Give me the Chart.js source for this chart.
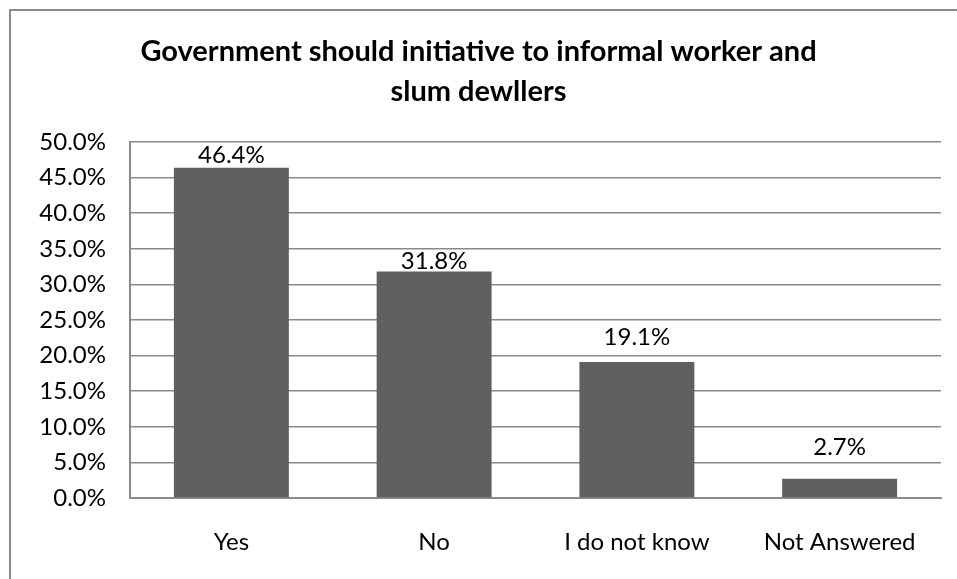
<!DOCTYPE html>
<html>
<head>
<meta charset="utf-8">
<script src="https://cdn.jsdelivr.net/npm/chart.js@4/dist/chart.umd.min.js"></script>
<style>
  html, body { margin: 0; padding: 0; background: #fff; }
  #wrap { width: 957px; height: 579px; }
</style>
</head>
<body>
<div id="wrap"><canvas id="myChart" width="957" height="579"></canvas></div>
<script>
const categories = ["Yes", "No", "I do not know", "Not Answered"];
const shares = [46.4, 31.8, 19.1, 2.7];
const yTicks = [0, 5, 10, 15, 20, 25, 30, 35, 40, 45, 50];

const titleLines = [
    "Government should initiative to informal worker and",
    "slum dewllers",
];

const FONT = "Lato, 'Open Sans', sans-serif";

// gray frame around the whole chart (runs off the right and bottom edges)
const frame = {
    id: "frame",
    beforeDraw(chart) {
        const ctx = chart.ctx;
        ctx.save();
        ctx.fillStyle = "#fff";
        ctx.fillRect(0, 0, chart.width, chart.height);
        ctx.strokeStyle = "#8a8a8a";
        ctx.lineWidth = 2;
        ctx.strokeRect(10, 10, chart.width + 20, chart.height + 20);
        ctx.restore();
    },
};

// value labels above each bar
const labelGap = [12, 10, 25, 32];
const barLabels = {
    id: "barLabels",
    afterDatasetsDraw(chart) {
        const ctx = chart.ctx;
        const meta = chart.getDatasetMeta(0);
        ctx.save();
        ctx.font = "24px " + FONT;
        ctx.fillStyle = "#000";
        ctx.textAlign = "center";
        ctx.textBaseline = "middle";
        meta.data.forEach((bar, i) => {
            ctx.fillText(shares[i].toFixed(1) + "%", bar.x, bar.y - labelGap[i]);
        });
        ctx.restore();
    },
};

new Chart(document.getElementById("myChart").getContext("2d"), {
    type: "bar",
    data: {
        labels: categories,
        datasets: [
            {
                data: shares,
                backgroundColor: "#606060",
                borderWidth: 0,
                categoryPercentage: 1,
                barPercentage: 0.567,
            },
        ],
    },
    options: {
        responsive: false,
        animation: false,
        layout: { padding: { top: 0, left: 16, right: 16, bottom: 0 } },
        plugins: {
            legend: { display: false },
            tooltip: { enabled: false },
            title: {
                display: true,
                text: titleLines,
                color: "#000",
                font: { family: FONT, size: 29, weight: "bold", lineHeight: 1.38 },
                padding: { top: 32, bottom: 30 },
            },
        },
        scales: {
            x: {
                grid: { display: false },
                border: { display: true, color: "#8a8a8a", width: 2 },
                ticks: {
                    color: "#000",
                    font: { family: FONT, size: 24 },
                    padding: 22,
                },
                afterFit(scale) { scale.height = 81; },
            },
            y: {
                min: 0,
                max: 50,
                afterBuildTicks(scale) {
                    scale.ticks = yTicks.map((v) => ({ value: v }));
                },
                grid: { color: "#8a8a8a", lineWidth: 1.5, drawTicks: false },
                border: { display: true, color: "#8a8a8a", width: 2 },
                ticks: {
                    color: "#000",
                    font: { family: FONT, size: 24 },
                    padding: 24,
                    callback: (v) => v.toFixed(1) + "%",
                },
                afterFit(scale) { scale.width = 114; },
            },
        },
    },
    plugins: [frame, barLabels],
});
</script>
</body>
</html>
